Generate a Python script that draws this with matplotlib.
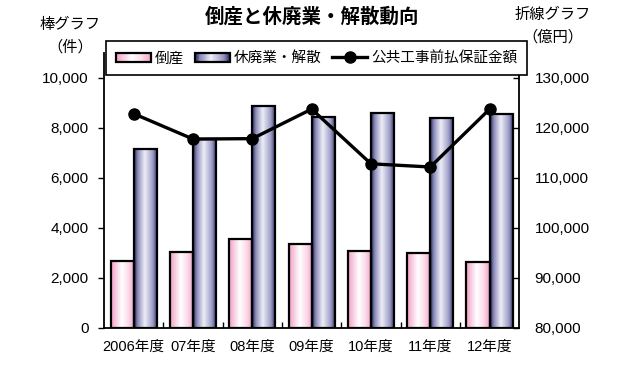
import numpy as np
import matplotlib
matplotlib.use("Agg")
import matplotlib.pyplot as plt
from matplotlib.colors import LinearSegmentedColormap
from matplotlib.legend_handler import HandlerBase
from matplotlib.patches import Rectangle, Patch
from matplotlib.lines import Line2D
from matplotlib.ticker import FuncFormatter

# ---- data ----
years = ['2006年度', '07年度', '08年度', '09年度', '10年度', '11年度', '12年度']
bankrupt = [2670, 3040, 3560, 3330, 3070, 3000, 2640]          # 倒産 (件)
closures = [7140, 7550, 8890, 8450, 8610, 8410, 8550]          # 休廃業・解散 (件)
guarantee = [122840, 117760, 117840, 123760, 112800, 112160, 123760]  # 公共工事前払保証金額 (億円)

title = '倒産と休廃業・解散動向'
left_label = '棒グラフ\n（件）'
right_label = '折線グラフ\n（億円）'
legend_labels = ['倒産', '休廃業・解散', '公共工事前払保証金額']

CJK = ['Noto Sans CJK JP', 'DejaVu Sans']
NUM = ['Liberation Sans', 'Noto Sans CJK JP', 'DejaVu Sans']
plt.rcParams['font.family'] = NUM

pink_cmap = LinearSegmentedColormap.from_list(
    'pinkgrad', [(0, '#f2a0c6'), (0.45, '#ffffff'), (0.75, '#fbd8e8'), (1, '#f0a0c6')])
blue_cmap = LinearSegmentedColormap.from_list(
    'bluegrad', [(0, '#26265e'), (0.15, '#8a8ab8'), (0.45, '#eeeef8'),
                 (0.8, '#9a9ac4'), (1, '#2a2a62')])

W, H = 633, 369
fig = plt.figure(figsize=(W / 100, H / 100), dpi=100)
ax = fig.add_axes([104 / W, 1 - 327.5 / H, (519.3 - 104) / W, (327.5 - 53) / H])
ax2 = ax.twinx()

x = np.arange(len(years))
w = 0.39
grad = np.linspace(0, 1, 64).reshape(1, -1)


def grad_bars(xpos, vals, cmap):
    bars = ax.bar(xpos, vals, w, align='edge', facecolor='none',
                  edgecolor='black', linewidth=1.6, zorder=3)
    for b in bars:
        x0, y0 = b.get_x(), b.get_y()
        im = ax.imshow(grad, extent=[x0, x0 + b.get_width(), y0, y0 + b.get_height()],
                       aspect='auto', cmap=cmap, zorder=2, interpolation='bilinear')
        im.set_clip_path(b)
    return bars


grad_bars(x - w, bankrupt, pink_cmap)
grad_bars(x, closures, blue_cmap)

ax.set_xlim(-0.5, len(years) - 0.5)
ax.set_ylim(0, 11000)
ax2.set_ylim(80000, 135000)

ax2.plot(x, guarantee, color='black', linewidth=2.4, marker='o',
         markersize=8, zorder=5)

fmt = FuncFormatter(lambda v, p: f'{int(v):,}')
ax.set_yticks(np.arange(0, 10001, 2000))
ax.yaxis.set_major_formatter(fmt)
ax2.set_yticks(np.arange(80000, 130001, 10000))
ax2.yaxis.set_major_formatter(fmt)

ax.set_xticks(x)
ax.set_xticklabels(years, fontfamily=NUM)
ax.set_xticks(np.arange(0.5, len(years) - 1, 1), minor=True)
ax.tick_params(axis='x', which='major', length=0, pad=9, labelsize=10.5)
ax.tick_params(axis='x', which='minor', direction='in', length=4, width=1)
ax.tick_params(axis='y', direction='out', length=4, width=1, pad=7, labelsize=11)
ax2.tick_params(axis='y', direction='in', length=4, width=1, pad=11, labelsize=11)

for a in (ax, ax2):
    a.spines['top'].set_visible(False)
    for s in ('left', 'right', 'bottom'):
        a.spines[s].set_linewidth(1.3)
ax2.spines['bottom'].set_visible(False)
ax.spines['right'].set_visible(False)
ax2.spines['left'].set_visible(False)

# axis unit labels
fig.text(70 / W, 1 - 36 / H, left_label, ha='center', va='center',
         fontsize=11, family=CJK, linespacing=1.4)
fig.text(553 / W, 1 - 26 / H, right_label, ha='center', va='center',
         fontsize=11, family=CJK, linespacing=1.4)
fig.text(312 / W, 1 - 17 / H, title, ha='center', va='center',
         fontsize=14, fontweight='bold', family=CJK)


class GradHandler(HandlerBase):
    def __init__(self, cmap):
        super().__init__()
        self.cmap = cmap

    def create_artists(self, legend, orig_handle, xdescent, ydescent,
                       width, height, fontsize, trans):
        n = 40
        arts = []
        for i in range(n):
            arts.append(Rectangle((-xdescent + width * i / n, -ydescent),
                                  width / n * 1.08, height,
                                  facecolor=self.cmap((i + 0.5) / n),
                                  edgecolor='none', transform=trans))
        arts.append(Rectangle((-xdescent, -ydescent), width, height,
                              facecolor='none', edgecolor='black',
                              linewidth=1.6, transform=trans))
        return arts


h_pink = Patch(label=legend_labels[0])
h_blue = Patch(label=legend_labels[1])
h_line = Line2D([], [], color='black', linewidth=2.4, marker='o', markersize=8,
                label=legend_labels[2])
leg = fig.legend([h_pink, h_blue, h_line], legend_labels, ncol=3,
                 loc='upper left', bbox_to_anchor=(106 / W, 1 - 41 / H),
                 borderaxespad=0, frameon=True, fancybox=False,
                 edgecolor='black', framealpha=1, facecolor='white',
                 prop={'family': CJK, 'size': 10.5},
                 handlelength=2.4, handleheight=0.6, handletextpad=0.25,
                 columnspacing=0.75, borderpad=0.7, numpoints=1,
                 handler_map={h_pink: GradHandler(pink_cmap),
                              h_blue: GradHandler(blue_cmap)})
leg.get_frame().set_linewidth(1.2)
leg.set_zorder(10)

fig.savefig('out.png', dpi=100)
